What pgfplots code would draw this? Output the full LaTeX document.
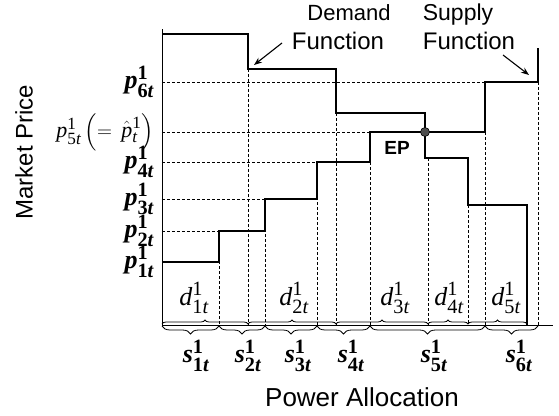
\documentclass[border=0pt]{standalone}
\usepackage{amsmath}
\usepackage{fontspec}
\setmainfont{Liberation Sans}
\newfontfamily\tnr{Liberation Serif}
\usepackage{pgfplots}
\pgfplotsset{compat=1.18}
\usetikzlibrary{arrows.meta,decorations.pathreplacing}
\renewcommand{\defaultscriptratio}{.78}
\newcommand{\bp}[2]{\text{\tnr\bfseries\itshape #1}^{\text{\tnr\bfseries 1}}_{\text{\tnr\bfseries #2\itshape t}}}
\newcommand{\rp}[2]{\text{\tnr\itshape #1}^{\text{\tnr 1}}_{\text{\tnr #2\itshape t}}}
\begin{document}
\begin{tikzpicture}
\begin{axis}[
  x=1pt, y=1pt,
  xmin=162, xmax=553, ymin=90, ymax=386,
  axis x line=bottom, axis y line=left,
  axis line style={-, line width=0.9pt},
  xtick=\empty,
  ytick={153,184,216,253,283,333},
  yticklabels={$\bp{p}{1}$,$\bp{p}{2}$,$\bp{p}{3}$,$\bp{p}{4}$,{\fontsize{22}{26}\selectfont$\rp{p}{5}\left(=\,\hat{\text{\tnr\itshape p}}^{\text{\tnr 1}}_{\text{\tnr\itshape t}}\right)$},$\bp{p}{6}$},
  yticklabel style={font=\fontsize{26}{30}\selectfont, anchor=east, inner sep=0pt, xshift=-8pt},
  major tick length=0pt,
  clip=false,
]
\path (axis cs:0,0) rectangle (axis cs:559,415);
% dashed guide lines
\pgfplotsset{guide/.style={black, line width=0.9pt, dash pattern=on 3pt off 2pt}}
\addplot[guide] coordinates {(162,333) (485,333)};
\addplot[guide] coordinates {(162,283) (370,283)};
\addplot[guide] coordinates {(162,253) (317,253)};
\addplot[guide] coordinates {(162,216) (265,216)};
\addplot[guide] coordinates {(162,184) (219,184)};
\addplot[guide] coordinates {(219,184) (219,90)};
\addplot[guide] coordinates {(248,346) (248,90)};
\addplot[guide] coordinates {(265,216) (265,90)};
\addplot[guide] coordinates {(317,253) (317,90)};
\addplot[guide] coordinates {(336,302) (336,90)};
\addplot[guide] coordinates {(370,283) (370,90)};
\addplot[guide] coordinates {(428,257) (428,90)};
\addplot[guide] coordinates {(468,210) (468,90)};
\addplot[guide] coordinates {(485,333) (485,90)};
\addplot[guide] coordinates {(538,333) (538,90)};
% supply function
\addplot[const plot, black, line width=2.5pt] coordinates {(162,153) (219,184) (265,216) (317,253) (370,283) (485,333) (538,367)};
% demand function
\addplot[const plot, black, line width=2.5pt] coordinates {(162,381) (248,346) (336,302) (425,257) (468,210) (527,90)};
% equilibrium point
\addplot[only marks, mark=*, mark size=4.5pt, mark options={fill=black!70, draw=black, line width=0.6pt}] coordinates {(425,283)};
% braces
\draw[decorate, decoration={brace, amplitude=4pt}, line width=0.8pt] (axis cs:162,91) -- (axis cs:248,91);
\draw[decorate, decoration={brace, amplitude=4pt}, line width=0.8pt] (axis cs:248,91) -- (axis cs:336,91);
\draw[decorate, decoration={brace, amplitude=4pt}, line width=0.8pt] (axis cs:336,91) -- (axis cs:428,91);
\draw[decorate, decoration={brace, amplitude=4pt}, line width=0.8pt] (axis cs:428,91) -- (axis cs:468,91);
\draw[decorate, decoration={brace, amplitude=4pt}, line width=0.8pt] (axis cs:468,91) -- (axis cs:527,91);
\draw[decorate, decoration={brace, mirror, amplitude=8pt}, line width=0.8pt] (axis cs:162,89) -- (axis cs:219,89);
\draw[decorate, decoration={brace, mirror, amplitude=8pt}, line width=0.8pt] (axis cs:219,89) -- (axis cs:265,89);
\draw[decorate, decoration={brace, mirror, amplitude=8pt}, line width=0.8pt] (axis cs:265,89) -- (axis cs:317,89);
\draw[decorate, decoration={brace, mirror, amplitude=8pt}, line width=0.8pt] (axis cs:317,89) -- (axis cs:370,89);
\draw[decorate, decoration={brace, mirror, amplitude=8pt}, line width=0.8pt] (axis cs:370,89) -- (axis cs:485,89);
\draw[decorate, decoration={brace, mirror, amplitude=8pt}, line width=0.8pt] (axis cs:485,89) -- (axis cs:538,89);
% labels
\tikzset{lab/.style={font=\fontsize{26}{30}\selectfont, inner sep=0pt}}
\node[lab] at (axis cs:194,117) {$\rp{d}{1}$};
\node[lab] at (axis cs:294,117) {$\rp{d}{2}$};
\node[lab] at (axis cs:395,117) {$\rp{d}{3}$};
\node[lab] at (axis cs:449,117) {$\rp{d}{4}$};
\node[lab] at (axis cs:506,117) {$\rp{d}{5}$};
\node[lab] at (axis cs:196,59) {$\bp{s}{1}$};
\node[lab] at (axis cs:248,59) {$\bp{s}{2}$};
\node[lab] at (axis cs:298,59) {$\bp{s}{3}$};
\node[lab] at (axis cs:351,59) {$\bp{s}{4}$};
\node[lab] at (axis cs:434,59) {$\bp{s}{5}$};
\node[lab] at (axis cs:519,59) {$\bp{s}{6}$};
\node[font=\bfseries\fontsize{19}{22}\selectfont] at (axis cs:397,267) {EP};
% annotations
\node[font=\fontsize{22}{26}\selectfont, anchor=base] at (axis cs:349,394) {Demand};
\node[font=\fontsize{24}{28}\selectfont, anchor=base] at (axis cs:338,365) {Function};
\node[font=\fontsize{23}{27}\selectfont, anchor=base] at (axis cs:458,394) {Supply};
\node[font=\fontsize{24}{28}\selectfont, anchor=base] at (axis cs:469,365) {Function};
\draw[-{Stealth[length=8pt,width=6pt]}, line width=1.1pt] (axis cs:282,372) -- (axis cs:254,350);
\draw[-{Stealth[length=8pt,width=6pt]}, line width=1.1pt] (axis cs:503,360) -- (axis cs:529,340);
\node[font=\fontsize{24}{28}\selectfont, rotate=90] at (axis cs:24,263) {Market Price};
\node[font=\fontsize{26}{30}\selectfont] at (axis cs:362,18) {Power Allocation};
\end{axis}
\end{tikzpicture}
\end{document}
